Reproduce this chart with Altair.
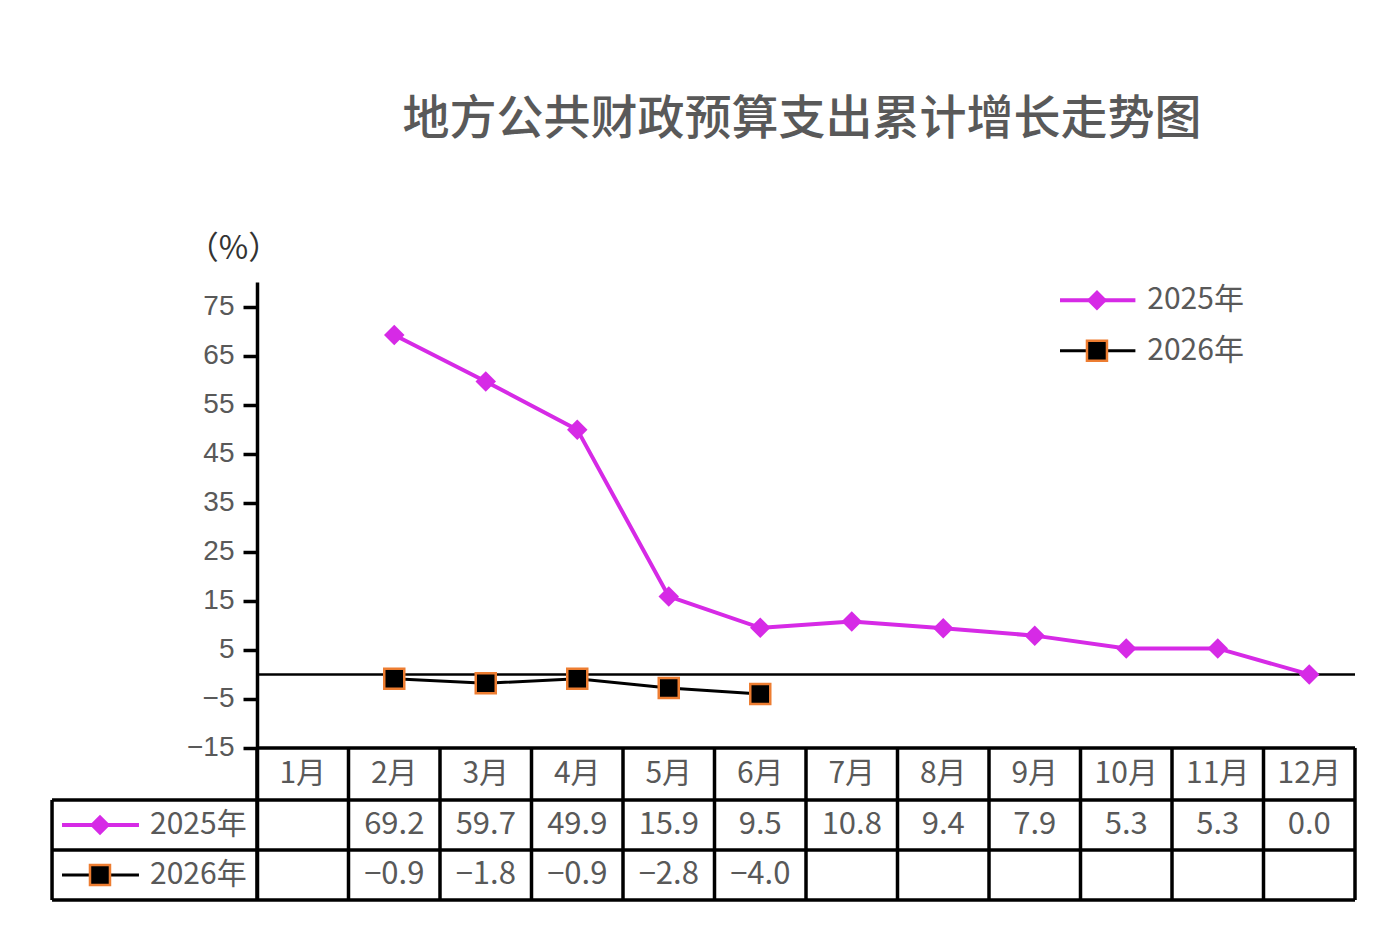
import altair as alt
import pandas as pd

# ---------------- data ----------------
months = ["1月", "2月", "3月", "4月", "5月", "6月", "7月", "8月", "9月", "10月", "11月", "12月"]
series_names = ["2025年", "2026年"]
values_2025 = [None, 69.2, 59.7, 49.9, 15.9, 9.5, 10.8, 9.4, 7.9, 5.3, 5.3, 0.0]
values_2026 = [None, -0.9, -1.8, -0.9, -2.8, -4.0, None, None, None, None, None, None]
y_ticks = [75, 65, 55, 45, 35, 25, 15, 5, -5, -15]
title_text = "地方公共财政预算支出累计增长走势图"
unit_text = "（%）"

# ---------------- style / layout ----------------
MAGENTA = "#D62AE6"
ORANGE = "#ED7D31"
GREY = "#595959"
FONT = "Noto Sans CJK SC"
X_DOMAIN = [0.5, 12.5]
Y_DOMAIN = [-46, 80]
ROW_EDGES = [-15, -25.6, -35.8, -46]          # table rows, in y-scale units
ROW_CENTERS = [(ROW_EDGES[i] + ROW_EDGES[i + 1]) / 2 for i in range(3)]
LABEL_COL_LEFT = -1.74                         # left edge of the table label column (x units)

xs = alt.Scale(domain=X_DOMAIN, nice=False, zero=False)
ys = alt.Scale(domain=Y_DOMAIN, nice=False, zero=False)
yaxis = alt.Axis(
    values=y_ticks, title=unit_text, titleAngle=0, titleAlign="center",
    titleBaseline="middle", titleX=-24, titleY=-34, titleFont=FONT,
    titleFontSize=32, titleFontWeight="normal", titleColor="#333333",
    labelFont="Liberation Sans", labelFontSize=28, labelColor=GREY,
    labelPadding=9, tickSize=14, tickWidth=3.5, tickColor="black",
    domainColor="black", domainWidth=3.5, grid=False, labelOverlap=False,
    labelFlush=False,
)


def X(f):
    return alt.X(f, type="quantitative", scale=xs, axis=None)


def Y(f):
    return alt.Y(f, type="quantitative", scale=ys, axis=yaxis)


m_idx = list(range(1, 13))
df25 = pd.DataFrame({"m": m_idx, "v": values_2025}).dropna()
df26 = pd.DataFrame({"m": m_idx, "v": values_2026}).dropna()

# ---------------- plot marks ----------------
zero_df = pd.DataFrame({"x": [X_DOMAIN[0]], "x2": [X_DOMAIN[1]], "y": [0]})
zero_line = alt.Chart(zero_df).mark_rule(color="black", strokeWidth=2.5).encode(
    x=X("x"), x2=alt.X2("x2"), y=Y("y"))

line25 = alt.Chart(df25).mark_line(color=MAGENTA, strokeWidth=4).encode(x=X("m"), y=Y("v"))
pts25 = alt.Chart(df25).mark_point(shape="diamond", filled=True, size=420, fill=MAGENTA,
                                   strokeWidth=0, opacity=1).encode(x=X("m"), y=Y("v"))
line26 = alt.Chart(df26).mark_line(color="black", strokeWidth=3).encode(x=X("m"), y=Y("v"))
pts26 = alt.Chart(df26).mark_point(shape="square", filled=True, size=400, fill="black",
                                   stroke=ORANGE, strokeWidth=2.5, opacity=1).encode(x=X("m"), y=Y("v"))

# ---------------- table grid ----------------
hl = pd.DataFrame({
    "y": ROW_EDGES,
    "x": [X_DOMAIN[0], LABEL_COL_LEFT, LABEL_COL_LEFT, LABEL_COL_LEFT],
    "x2": [X_DOMAIN[1]] * 4,
})
h_lines = alt.Chart(hl).mark_rule(color="black", strokeWidth=3.5).encode(
    x=X("x"), x2=alt.X2("x2"), y=Y("y"))
vx = [i + 0.5 for i in range(0, 13)] + [LABEL_COL_LEFT]
vy = [ROW_EDGES[0]] * 13 + [ROW_EDGES[1]]
vl = pd.DataFrame({"x": vx, "y": vy, "y2": [ROW_EDGES[3]] * 14})
v_lines = alt.Chart(vl).mark_rule(color="black", strokeWidth=3.5).encode(
    x=X("x"), y=Y("y"), y2=alt.Y2("y2"))


def fmt(v):
    return f"{v:.1f}".replace("-", "−")


header_cells = pd.DataFrame({"m": m_idx, "y": [ROW_CENTERS[0]] * 12, "t": months})
value_cells = []
for i in range(12):
    if values_2025[i] is not None:
        value_cells.append({"m": i + 1, "y": ROW_CENTERS[1], "t": fmt(values_2025[i])})
    if values_2026[i] is not None:
        value_cells.append({"m": i + 1, "y": ROW_CENTERS[2], "t": fmt(values_2026[i])})
value_cells = pd.DataFrame(value_cells)
header_text = alt.Chart(header_cells).mark_text(font=FONT, fontSize=30, color=GREY,
                                                baseline="middle", align="center").encode(
    x=X("m"), y=Y("y"), text="t:N")
value_text = alt.Chart(value_cells).mark_text(font=FONT, fontSize=31, color=GREY,
                                              baseline="middle", align="center").encode(
    x=X("m"), y=Y("y"), text="t:N")

# ---------------- keys (top-right legend and table row labels) ----------------
keys = pd.DataFrame({
    "series": [series_names[0], series_names[1], series_names[0], series_names[1]],
    "x1": [9.276, 9.276, -1.631, -1.631],
    "x2": [10.10, 10.10, -0.790, -0.790],
    "xm": [9.68, 9.68, -1.216, -1.216],
    "xt": [10.23, 10.23, -0.669, -0.669],
    "y": [76.3, 65.96, ROW_CENTERS[1], ROW_CENTERS[2]],
})
k25 = keys[keys.series == series_names[0]]
k26 = keys[keys.series == series_names[1]]
key_line25 = alt.Chart(k25).mark_rule(color=MAGENTA, strokeWidth=4).encode(
    x=X("x1"), x2=alt.X2("x2"), y=Y("y"))
key_pt25 = alt.Chart(k25).mark_point(shape="diamond", filled=True, size=420, fill=MAGENTA,
                                     strokeWidth=0, opacity=1).encode(x=X("xm"), y=Y("y"))
key_line26 = alt.Chart(k26).mark_rule(color="black", strokeWidth=3).encode(
    x=X("x1"), x2=alt.X2("x2"), y=Y("y"))
key_pt26 = alt.Chart(k26).mark_point(shape="square", filled=True, size=400, fill="black",
                                     stroke=ORANGE, strokeWidth=2.5, opacity=1).encode(x=X("xm"), y=Y("y"))
key_text = alt.Chart(keys).mark_text(font=FONT, fontSize=30, color=GREY, align="left",
                                     baseline="middle").encode(x=X("xt"), y=Y("y"), text="series:N")

chart = alt.layer(
    zero_line, h_lines, v_lines, line25, line26, pts25, pts26, header_text, value_text,
    key_line25, key_line26, key_pt25, key_pt26, key_text,
).properties(
    width=1098, height=618,
    autosize=alt.AutoSizeParams(type="none"),
    padding={"left": 249, "top": 274, "right": 23, "bottom": 38},
    title=alt.TitleParams(title_text, font=FONT, fontSize=47, fontWeight=500, color=GREY,
                          anchor="middle", frame="group", offset=88, dx=-4),
).configure_view(strokeWidth=0)

chart.save("out.html", embed_options={"renderer": "svg", "actions": False})
